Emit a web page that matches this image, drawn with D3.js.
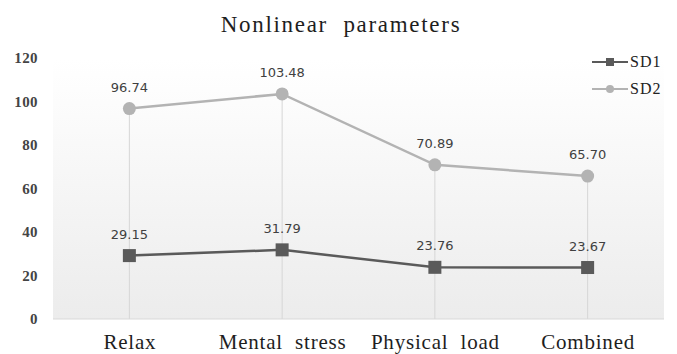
<!DOCTYPE html>
<html>
<head>
<meta charset="utf-8">
<script src="https://cdnjs.cloudflare.com/ajax/libs/d3/7.8.5/d3.min.js"></script>
<style>
  html, body { margin: 0; padding: 0; background: #fff; }
  svg { display: block; }
</style>
</head>
<body>
<svg id="chart" width="677" height="354"></svg>
<script>
// Nonlinear HRV parameters (Poincaré SD1 / SD2) per condition
const categories = ["Relax", "Mental stress", "Physical load", "Combined"];
const sd1Values = [29.15, 31.79, 23.76, 23.67];
const sd2Values = [96.74, 103.48, 70.89, 65.70];
const yTicks = [0, 20, 40, 60, 80, 100, 120];
const seriesNames = ["SD1", "SD2"];

const SERIF = '"Liberation Serif", "Times New Roman", serif';
const SANS = '"DejaVu Sans", Verdana, sans-serif';

const svg = d3.select("#chart");
const W = 677, H = 354;
const margin = { left: 53, right: 13, top: 58, bottom: 35 };
const plotW = W - margin.left - margin.right;
const plotH = H - margin.top - margin.bottom;

const x = d3.scalePoint().domain(categories).range([0, plotW]).padding(0.5);
const y = d3.scaleLinear().domain([0, 120]).range([plotH, 0]);

const defs = svg.append("defs");
const grad = defs.append("linearGradient").attr("id", "bgGrad")
  .attr("x1", 0).attr("y1", 0).attr("x2", 0).attr("y2", 1);
grad.append("stop").attr("offset", "0%").attr("stop-color", "#ffffff");
grad.append("stop").attr("offset", "12%").attr("stop-color", "#fdfdfd");
grad.append("stop").attr("offset", "100%").attr("stop-color", "#ececec");

const g = svg.append("g").attr("transform", `translate(${margin.left},${margin.top})`);

// plot background
g.append("rect").attr("x", 0).attr("y", 0).attr("width", plotW).attr("height", plotH)
  .attr("fill", "url(#bgGrad)");

// vertical grid lines, from the upper series down to the baseline
g.selectAll(".vgrid").data(categories).enter().append("line")
  .attr("x1", d => x(d)).attr("x2", d => x(d))
  .attr("y1", (d, i) => y(sd2Values[i])).attr("y2", plotH)
  .attr("stroke", "#d6d6d6").attr("stroke-width", 1);

// baseline
g.append("line").attr("x1", 0).attr("x2", plotW).attr("y1", plotH).attr("y2", plotH)
  .attr("stroke", "#d9d9d9").attr("stroke-width", 1);

// y axis labels
const yAxis = d3.axisLeft(y).tickValues(yTicks).tickSize(0).tickPadding(15);
const ya = g.append("g").call(yAxis);
ya.select(".domain").remove();
ya.selectAll("text")
  .style("font-family", SERIF).style("font-size", "15px").style("font-weight", "bold")
  .style("letter-spacing", "0.4px")
  .attr("fill", "#444");

// x axis labels
const xAxis = d3.axisBottom(x).tickSize(0).tickPadding(15);
const xa = g.append("g").attr("transform", `translate(0,${plotH})`).call(xAxis);
xa.select(".domain").remove();
xa.selectAll("text")
  .style("font-family", SERIF).style("font-size", "21px")
  .style("letter-spacing", "0.8px").style("word-spacing", "6px")
  .attr("fill", "#1e1e1e");

// title
svg.append("text").attr("x", 341).attr("y", 32).attr("text-anchor", "middle")
  .style("font-family", SERIF).style("font-size", "23px")
  .style("letter-spacing", "1.7px").style("word-spacing", "8px")
  .attr("fill", "#1e1e1e").text("Nonlinear parameters");

const line = d3.line().x((d, i) => x(categories[i])).y(d => y(d));

const sd2Color = "#b3b3b3";
const sd1Color = "#5a5a5a";

// SD2 series
g.append("path").datum(sd2Values).attr("d", line)
  .attr("fill", "none").attr("stroke", sd2Color).attr("stroke-width", 2.5);
g.selectAll(".sd2pt").data(sd2Values).enter().append("circle")
  .attr("cx", (d, i) => x(categories[i])).attr("cy", d => y(d)).attr("r", 6.5)
  .attr("fill", sd2Color);

// SD1 series
g.append("path").datum(sd1Values).attr("d", line)
  .attr("fill", "none").attr("stroke", sd1Color).attr("stroke-width", 2.5);
g.selectAll(".sd1pt").data(sd1Values).enter().append("rect")
  .attr("x", (d, i) => x(categories[i]) - 6.5).attr("y", d => y(d) - 6.5)
  .attr("width", 13).attr("height", 13).attr("fill", sd1Color);

// value labels
[sd1Values, sd2Values].forEach(vals => {
  g.selectAll(null).data(vals).enter().append("text")
    .attr("x", (d, i) => x(categories[i])).attr("y", d => y(d) - 17)
    .attr("text-anchor", "middle")
    .style("font-family", SANS).style("font-size", "13px").attr("fill", "#404040")
    .text(d => d.toFixed(2));
});

// legend
const legend = svg.append("g").attr("transform", "translate(592,0)");
seriesNames.forEach((name, i) => {
  const ly = 62 + i * 27;
  const col = i === 0 ? sd1Color : sd2Color;
  legend.append("line").attr("x1", 0).attr("x2", 36).attr("y1", ly).attr("y2", ly)
    .attr("stroke", col).attr("stroke-width", 2);
  if (i === 0) {
    legend.append("rect").attr("x", 14).attr("y", ly - 4).attr("width", 8).attr("height", 8).attr("fill", col);
  } else {
    legend.append("circle").attr("cx", 18).attr("cy", ly).attr("r", 4).attr("fill", col);
  }
  legend.append("text").attr("x", 38).attr("y", ly + 5)
    .style("font-family", SERIF).style("font-size", "16px").style("letter-spacing", "1px")
    .attr("fill", "#222").text(name);
});
</script>
</body>
</html>
